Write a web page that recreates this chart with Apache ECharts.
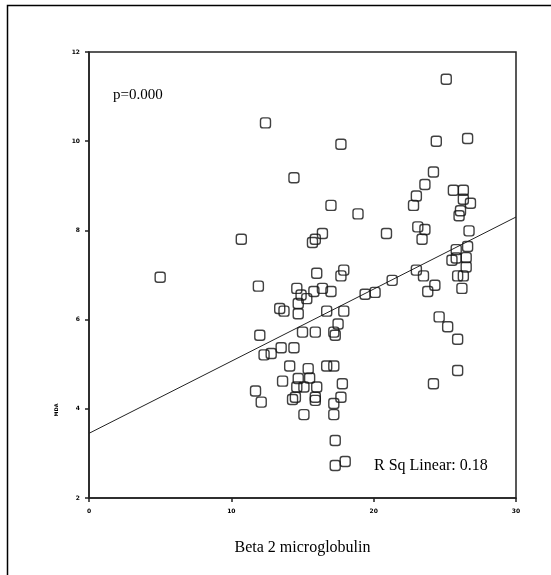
<!DOCTYPE html>
<html>
<head>
<meta charset="utf-8">
<script src="https://cdn.jsdelivr.net/npm/echarts@6/dist/echarts.min.js"></script>
<style>
    html, body { margin: 0; padding: 0; background: #fff; }
    #container { width: 551px; height: 575px; }
</style>
</head>
<body>
<div id="container"></div>
<script type="text/javascript">
    // Beta 2 microglobulin (x) vs MDA (y)
    var b2m = [
        25.1, 12.4, 17.7, 24.4, 26.6, 14.4, 24.2, 23.6, 23.0, 22.8,
        25.6, 26.3, 26.3, 26.8, 17.0, 18.9, 26.1, 26.0,
        23.1, 23.6, 26.7, 20.9, 16.4, 15.9, 15.7, 10.7, 23.4, 5.0,
        26.6, 25.8, 26.5, 25.5, 25.8, 26.5, 25.9, 26.3, 26.2,
        23.0, 23.5, 24.3, 23.8, 21.3, 20.1, 19.4,
        16.0, 17.9, 17.7, 11.9, 14.6, 14.9, 15.3, 15.8, 16.4, 17.0,
        14.7, 14.7, 13.4, 13.7, 16.7, 17.9, 17.5, 17.2, 17.3,
        15.0, 15.9, 12.0, 24.6, 25.2, 25.9, 25.9, 24.2,
        13.5, 14.4, 12.3, 12.8, 14.1, 15.4, 16.7, 17.2,
        14.7, 15.5, 13.6, 14.6, 15.1, 16.0, 17.8, 11.7, 12.1,
        14.3, 14.5, 15.9, 15.9, 17.7, 17.2, 15.1, 17.2,
        17.3, 17.3, 18.0
    ];
    var mda = [
        11.39, 10.41, 9.93, 10.00, 10.06, 9.18, 9.31, 9.03, 8.77, 8.56,
        8.90, 8.90, 8.70, 8.61, 8.56, 8.37, 8.44, 8.33,
        8.08, 8.02, 7.99, 7.93, 7.93, 7.80, 7.73, 7.80, 7.80, 6.95,
        7.64, 7.57, 7.39, 7.33, 7.38, 7.18, 6.98, 6.98, 6.70,
        7.11, 6.98, 6.77, 6.63, 6.88, 6.61, 6.57,
        7.04, 7.11, 6.98, 6.75, 6.70, 6.55, 6.47, 6.63, 6.70, 6.63,
        6.36, 6.13, 6.25, 6.19, 6.19, 6.19, 5.90, 5.72, 5.65,
        5.72, 5.72, 5.65, 6.06, 5.84, 5.56, 4.86, 4.56,
        5.37, 5.37, 5.21, 5.24, 4.96, 4.90, 4.96, 4.96,
        4.68, 4.69, 4.62, 4.49, 4.49, 4.49, 4.56, 4.40, 4.15,
        4.21, 4.26, 4.26, 4.19, 4.26, 4.12, 3.87, 3.87,
        3.29, 2.73, 2.82
    ];
    // linear fit end points
    var fitX = [0, 30];
    var fitY = [3.45, 8.30];
    var xTicks = [0, 10, 20, 30];
    var yTicks = [2, 4, 6, 8, 10, 12];

    var points = b2m.map(function (x, i) { return [x, mda[i]]; });
    var fitLine = fitX.map(function (x, i) { return [x, fitY[i]]; });

    var dom = document.getElementById("container");
    var myChart = echarts.init(dom, null, {renderer: 'canvas'});

    var tickLabel = {
        fontSize: 6,
        fontWeight: 'bold',
        color: '#000',
        fontFamily: 'DejaVu Sans'
    };

    var option = {
        animation: false,
        backgroundColor: '#fff',
        grid: {
            left: 89,
            right: 35,
            top: 52,
            bottom: 77,
            show: true,
            borderColor: '#222',
            borderWidth: 1.5
        },
        xAxis: {
            type: 'value',
            min: xTicks[0],
            max: xTicks[xTicks.length - 1],
            interval: 10,
            splitLine: {show: false},
            axisLine: {lineStyle: {color: '#222', width: 1.5}},
            axisTick: {show: true, length: 4, lineStyle: {color: '#222', width: 1.5}},
            axisLabel: Object.assign({margin: 10}, tickLabel),
            name: 'Beta 2 microglobulin',
            nameLocation: 'middle',
            nameGap: 42,
            nameTextStyle: {fontFamily: 'Liberation Serif', fontSize: 16, color: '#000'}
        },
        yAxis: {
            type: 'value',
            min: yTicks[0],
            max: yTicks[yTicks.length - 1],
            interval: 2,
            splitLine: {show: false},
            axisLine: {show: true, lineStyle: {color: '#222', width: 1.5}},
            axisTick: {show: true, length: 4, lineStyle: {color: '#222', width: 1.5}},
            axisLabel: Object.assign({margin: 9}, tickLabel)
        },
        graphic: [
            {
                type: 'rect',
                silent: true,
                shape: {x: 7.5, y: 5.5, width: 700, height: 700},
                style: {fill: 'none', stroke: '#000', lineWidth: 1.5}
            },
            {
                type: 'text',
                x: 57,
                y: 410,
                rotation: Math.PI / 2,
                style: {text: 'MDA', font: 'bold 5px "DejaVu Sans"', fill: '#000', align: 'center', verticalAlign: 'middle'}
            },
            {
                type: 'text',
                left: 113,
                top: 88,
                style: {text: 'p=0.000', font: '15px "Liberation Serif"', fill: '#000'}
            },
            {
                type: 'text',
                left: 374,
                top: 458,
                style: {text: 'R Sq Linear: 0.18', font: '16px "Liberation Serif"', fill: '#000'}
            }
        ],
        series: [
            {
                name: 'fit',
                type: 'line',
                data: fitLine,
                symbol: 'none',
                lineStyle: {color: '#222', width: 1},
                z: 1
            },
            {
                name: 'MDA',
                type: 'scatter',
                data: points,
                symbol: 'roundRect',
                symbolSize: 10,
                itemStyle: {color: 'rgba(255,255,255,0)', borderColor: '#111', borderWidth: 1.4},
                z: 2
            }
        ]
    };
    if (option && typeof option === "object") {
        myChart.setOption(option, true);
    }
</script>
</body>
</html>
